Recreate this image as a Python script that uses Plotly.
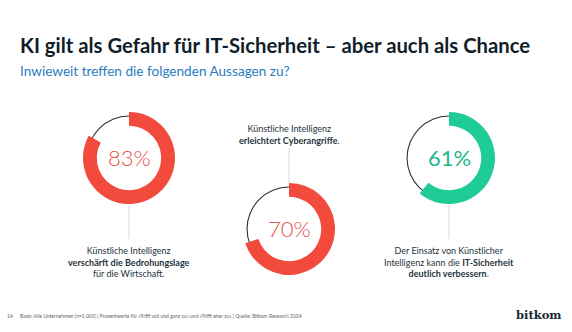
import plotly.graph_objects as go

W, H = 572, 332

# ---- data ----
values = [83, 70, 61]
pct_labels = ["83%", "70%", "61%"]
statements = [
    "Künstliche Intelligenz<br><b>verschärft die Bedrohungslage</b><br>für die Wirtschaft.",
    "Künstliche Intelligenz<br><b>erleichtert Cyberangriffe</b>.",
    "Der Einsatz von Künstlicher<br>Intelligenz kann die <b>IT-Sicherheit</b><br><b>deutlich verbessern</b>.",
]
ring_colors = ["#f24a3c", "#f24a3c", "#1fcc98"]
text_colors = ["#e2534a", "#e2534a", "#1db98c"]
title = "KI gilt als Gefahr für IT-Sicherheit – aber auch als Chance"
subtitle = "Inwieweit treffen die folgenden Aussagen zu?"
footer = "Basis: Alle Unternehmen (n=1.005) | Prozentwerte für »Trifft voll und ganz zu« und »Trifft eher zu« | Quelle: Bitkom Research 2024"
page_no = "14"

# ---- layout (pixel geometry) ----
centers = [(129, 158), (289, 229), (449, 158)]
R = 46
R_line = 42.5
label_pos = [(129, 262, "below"), (289, 135, "above"), (449, 262, "below")]
connectors = [(205, 239), (148, 183), (205, 239)]

def px(x):
    return x / W

def py(y):
    return 1 - y / H

fig = go.Figure()

for i, v in enumerate(values):
    cx, cy = centers[i]
    # thin remainder circle
    fig.add_trace(go.Pie(
        values=[1], labels=["rest"],
        domain=dict(x=[px(cx - R_line), px(cx + R_line)], y=[py(cy + R_line), py(cy - R_line)]),
        hole=(R_line - 1.1) / R_line, sort=False,
        marker=dict(colors=["#22313c"], line=dict(width=0)),
        textinfo="none", hoverinfo="skip", showlegend=False,
    ))
    # main ring
    fig.add_trace(go.Pie(
        values=[v, 100 - v], labels=["ja", "nein"],
        domain=dict(x=[px(cx - R), px(cx + R)], y=[py(cy + R), py(cy - R)]),
        hole=0.70, sort=False, direction="clockwise", rotation=0,
        marker=dict(colors=[ring_colors[i], "rgba(0,0,0,0)"], line=dict(width=0)),
        textinfo="none", hoverinfo="skip", showlegend=False,
    ))

annotations = []
shapes = []
for i, v in enumerate(values):
    cx, cy = centers[i]
    annotations.append(dict(
        x=px(cx), y=py(cy - 1), xref="paper", yref="paper",
        text=pct_labels[i], showarrow=False, xanchor="center", yanchor="middle",
        font=dict(family="Lato", size=22, color=text_colors[i], weight=300 if i < 2 else 400),
    ))
    lx, ly, _ = label_pos[i]
    annotations.append(dict(
        x=px(lx), y=py(ly), xref="paper", yref="paper",
        text=statements[i], showarrow=False, xanchor="center", yanchor="middle",
        align="center",
        font=dict(family="Lato", size=9, color="#26333d"),
    ))
    y0, y1 = connectors[i]
    shapes.append(dict(type="line", xref="paper", yref="paper",
                       x0=px(cx), x1=px(cx), y0=py(y0), y1=py(y1),
                       line=dict(color="#dadada", width=1)))

annotations += [
    dict(x=px(18), y=py(45), xref="paper", yref="paper", text="<b>" + title + "</b>",
         showarrow=False, xanchor="left", yanchor="middle",
         font=dict(family="Lato", size=20.3, color="#0f1e2a")),
    dict(x=px(18), y=py(71), xref="paper", yref="paper", text=subtitle,
         showarrow=False, xanchor="left", yanchor="middle",
         font=dict(family="Lato", size=13.6, color="#2a7cc0")),
    dict(x=px(5), y=py(316), xref="paper", yref="paper", text=page_no,
         showarrow=False, xanchor="left", yanchor="middle",
         font=dict(family="Lato", size=5, color="#666666")),
    dict(x=px(18), y=py(316), xref="paper", yref="paper", text=footer,
         showarrow=False, xanchor="left", yanchor="middle",
         font=dict(family="Lato", size=5, color="#666666")),
    dict(x=px(564), y=py(315), xref="paper", yref="paper", text="<b>bitkom</b>",
         showarrow=False, xanchor="right", yanchor="middle",
         font=dict(family="DejaVu Serif", size=11.5, color="#1b2a35")),
]

fig.update_layout(
    width=W, height=H,
    margin=dict(l=0, r=0, t=0, b=0),
    paper_bgcolor="white", plot_bgcolor="white",
    annotations=annotations, shapes=shapes,
    showlegend=False,
)

fig.write_html("out.html", config={"displayModeBar": False})
